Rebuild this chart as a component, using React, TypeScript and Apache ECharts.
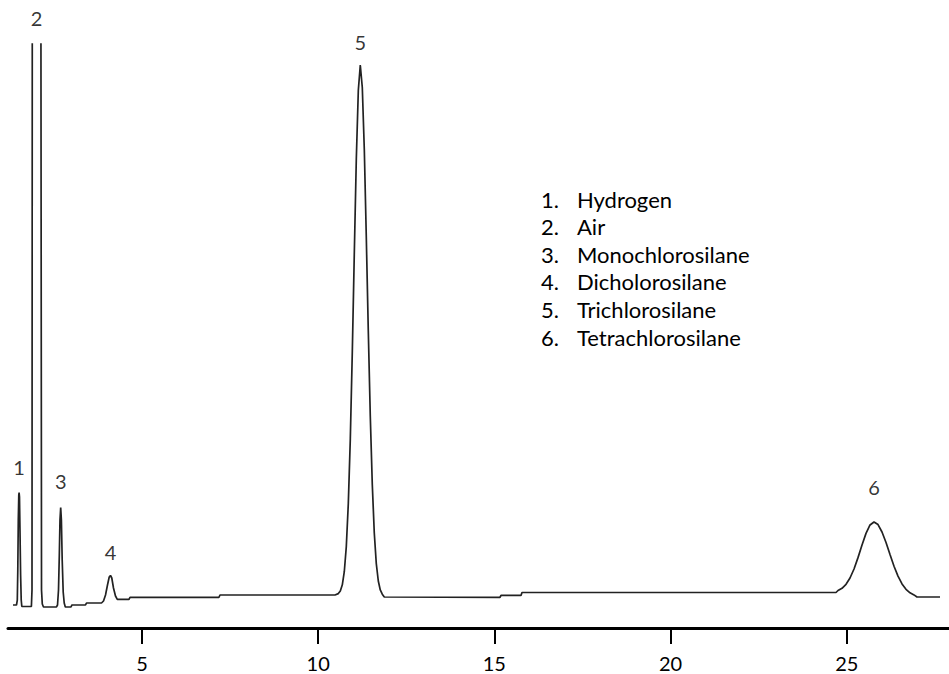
import React, { useEffect, useRef } from "react";
import * as echarts from "echarts";

// Retention time (min) of each traced point of the chromatogram
const times = [
  1.342, 1.441,
  1.464, 1.478, 1.492, 1.506, 1.515, 1.526, 1.540, 1.558, 1.575, 1.592,
  1.864,
  1.881, 1.889, 2.011, 2.134, 2.151, 2.173, 2.207,
  2.576,
  2.605, 2.633, 2.656, 2.675, 2.695, 2.715, 2.738, 2.766, 2.795, 2.826,
  2.988, 3.016, 3.399, 3.427, 3.853,
  3.910, 3.967, 4.023, 4.072, 4.108, 4.145, 4.193, 4.250, 4.301,
  4.633, 4.662, 7.187, 7.215, 10.478,
  10.572, 10.629, 10.686, 10.742, 10.799, 10.856, 10.913, 10.969, 11.026, 11.083, 11.140, 11.196,
  11.253, 11.310, 11.366, 11.423, 11.480, 11.537, 11.593, 11.650, 11.707, 11.763, 11.820, 11.877,
  15.160, 15.188, 15.756, 15.784, 24.694,
  24.751, 24.864, 24.978, 25.091, 25.205, 25.318, 25.432, 25.545, 25.659, 25.772,
  25.886, 25.999, 26.113, 26.226, 26.340, 26.453, 26.567, 26.680, 26.794, 26.907, 26.992, 27.645,
];

// Detector signal (arbitrary units) at each time above
const signal = [
  3.94, 3.94,
  4.79, 9.93, 18.49, 22.77, 23.17, 22.43, 16.78, 9.08, 4.79, 3.68,
  3.68,
  6.51, 105, 480, 105, 6.51, 4.11, 3.6,
  3.6,
  3.94, 6.51, 12.5, 18.49, 20.63, 18.49, 11.64, 6.16, 4.28, 3.6,
  3.6, 3.94, 3.94, 4.28, 4.28,
  4.62, 5.65, 7.36, 8.73, 8.99, 8.56, 6.85, 5.48, 4.91,
  4.91, 5.26, 5.26, 5.65, 5.65,
  5.89, 6.34, 7.4, 9.64, 13.94, 21.3, 32.43, 47.19, 64.13, 80.31, 92.05, 96.4,
  92.55, 81.93, 67.04, 50.91, 36.21, 24.5, 16.27, 11.03, 8.05, 6.51, 5.79, 5.31,
  5.26, 5.57, 5.57, 6.08, 6.08,
  6.42, 6.8, 7.48, 8.56, 10.1, 12.05, 14.21, 16.2, 17.64, 18.15,
  17.71, 16.44, 14.64, 12.59, 10.58, 8.89, 7.55, 6.63, 6.03, 5.67, 5.31, 5.31,
];

// Peak numbers, apex times and apex heights (peak 2 is off scale: labelled at the top)
const peakNumbers = ["1", "2", "3", "4", "5", "6"];
const peakTimes = [1.515, 2.011, 2.695, 4.108, 11.196, 25.772];
const peakApex = [23.17, 100, 20.63, 8.99, 96.4, 18.15];

// Compound legend
const compoundNumbers = ["1.", "2.", "3.", "4.", "5.", "6."];
const compoundNames = [
  "Hydrogen",
  "Air",
  "Monochlorosilane",
  "Dicholorosilane",
  "Trichlorosilane",
  "Tetrachlorosilane",
];

// Axis ticks
const tickValues = [5, 10, 15, 20, 25];

const FONT = "Lato, 'Open Sans', sans-serif";
const labelGap = [16, 16, 17, 13, 13, 25];

export default function App() {
  const ref = useRef<HTMLDivElement>(null);

  useEffect(() => {
    if (!ref.current) return;
    const chart = echarts.init(ref.current, null, { renderer: "svg" });

    const trace = times.map((t, i) => [t, signal[i]]);
    const peakData = peakTimes.map((t, i) => ({
      value: [t, peakApex[i]],
      label: { distance: labelGap[i] },
    }));

    const legendElements: any[] = [];
    compoundNames.forEach((name, i) => {
      const y = 199 + i * 27.6;
      legendElements.push({
        type: "text",
        x: 541,
        y,
        style: {
          text: compoundNumbers[i],
          fill: "#000",
          fontSize: 22,
          fontFamily: FONT,
          verticalAlign: "middle",
          align: "left",
        },
      });
      legendElements.push({
        type: "text",
        x: 577,
        y,
        style: {
          text: name,
          fill: "#000",
          fontSize: 22,
          fontFamily: FONT,
          verticalAlign: "middle",
          align: "left",
        },
      });
    });

    chart.setOption({
      animation: false,
      backgroundColor: "#fff",
      grid: {
        left: 8,
        right: 0,
        top: 44,
        bottom: 46,
        containLabel: false,
        outerBoundsMode: "none",
      },
      xAxis: {
        type: "value",
        min: 1.2,
        max: 27.9,
        axisLine: { show: true, onZero: false, lineStyle: { color: "#000", width: 3 } },
        axisTick: {
          show: true,
          customValues: tickValues,
          length: 16,
          lineStyle: { color: "#000", width: 2 },
        },
        axisLabel: {
          customValues: tickValues,
          margin: 25,
          color: "#000",
          fontSize: 20,
          fontFamily: FONT,
        },
        splitLine: { show: false },
      },
      yAxis: {
        type: "value",
        min: 0,
        max: 100,
        show: false,
        splitLine: { show: false },
      },
      series: [
        {
          type: "line",
          data: trace,
          symbol: "none",
          showSymbol: false,
          clip: true,
          lineStyle: { color: "#222", width: 1.7 },
          z: 2,
        },
        {
          type: "scatter",
          data: peakData,
          symbolSize: 0,
          clip: false,
          silent: true,
          label: {
            show: true,
            position: "top",
            formatter: (p: any) => peakNumbers[p.dataIndex],
            color: "#000",
            fontSize: 20,
            lineHeight: 20,
            fontFamily: FONT,
          },
          z: 3,
        },
      ],
      graphic: legendElements,
    });

    return () => {
      chart.dispose();
    };
  }, []);

  return (
    <div
      ref={ref}
      style={{ position: "absolute", left: 0, top: 0, width: 949, height: 674 }}
    />
  );
}
